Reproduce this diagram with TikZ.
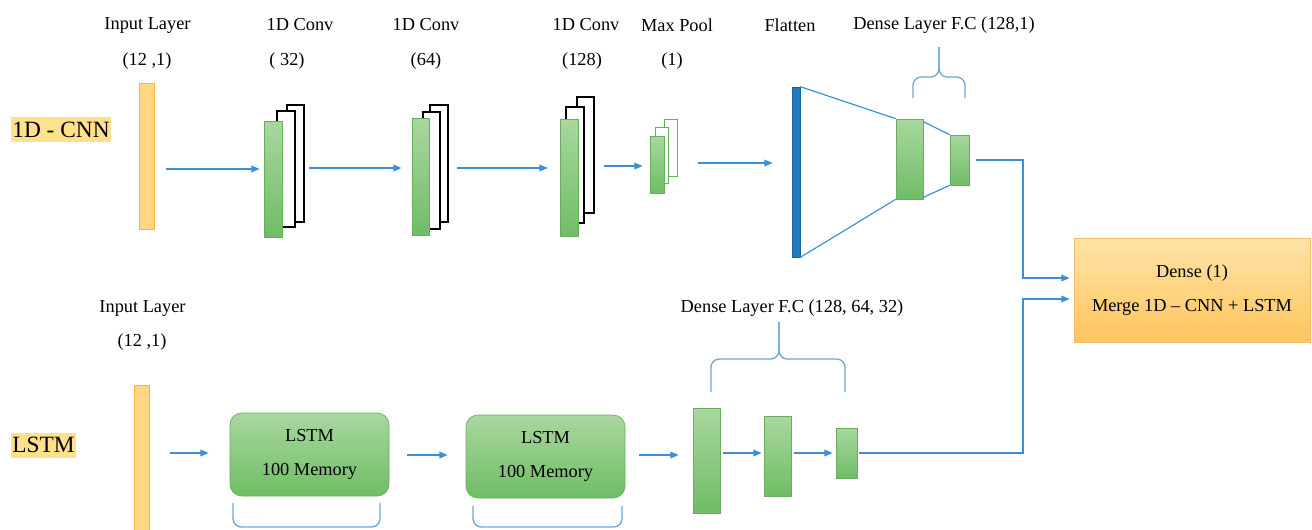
\documentclass[tikz,border=0pt]{standalone}
\usepackage{fontspec}
\setmainfont{Liberation Serif}
\usetikzlibrary{arrows.meta,positioning}

\definecolor{gtop}{HTML}{A9D7A0}
\definecolor{gbot}{HTML}{6FBD65}
\definecolor{gline}{HTML}{69AE5C}
\definecolor{infill}{HTML}{FFD683}
\definecolor{inline}{HTML}{F5B83A}
\definecolor{mtop}{HTML}{FFE3A6}
\definecolor{mbot}{HTML}{FFC55E}
\definecolor{mline}{HTML}{F0BE6A}
\definecolor{tagbg}{HTML}{FFE08C}
\definecolor{arrblue}{HTML}{3C8FD6}
\definecolor{brcblue}{HTML}{6FA6D8}
\definecolor{flatblue}{HTML}{1F7BC0}

\begin{document}
\begin{tikzpicture}
  [
  x=0.6pt, y=-0.6pt,
  lbl/.style={font=\fontsize{11}{13}\selectfont, inner sep=0pt},
  tag/.style={font=\fontsize{14}{16}\selectfont, fill=tagbg, inner xsep=0.6pt, inner ysep=0pt, minimum height=15pt},
  bar/.style 2 args={inner sep=0pt, minimum width=#1*0.6pt, minimum height=#2*0.6pt},
  gbar/.style 2 args={bar={#1}{#2}, draw=gline, top color=gtop, bottom color=gbot},
  wbar/.style 2 args={bar={#1}{#2}, draw=black, fill=white, line width=0.7pt},
  pbar/.style 2 args={bar={#1}{#2}, draw=gline, fill=white},
  inbar/.style 2 args={bar={#1}{#2}, draw=inline, fill=infill},
  lstmbox/.style={bar={159}{83}, draw=gline, top color=gtop, bottom color=gbot, rounded corners=7pt, align=center, font=\fontsize{11}{13}\selectfont},
  mergebox/.style={bar={236}{104}, draw=mline, top color=mtop, bottom color=mbot, align=center, font=\fontsize{11}{13}\selectfont},
  arr/.style={draw=arrblue, line width=0.8pt, -{Triangle[length=5pt,width=4pt]}},
  fan/.style={draw=arrblue, line width=0.7pt},
  brc/.style={draw=brcblue, line width=0.8pt, rounded corners=5pt}
  ]
  \useasboundingbox (0,0) rectangle (1312,529);
  \clip (0,0) rectangle (1312,529);

  % 1D-CNN branch
  \node[tag] (cnn) at (61,129.5) {1D - CNN};
  \node[lbl] (t1) at (147.5,25) {Input Layer};
  \node[lbl] (s1) at (147,61) {(12 ,1)};
  \node[lbl] (t2) at (300,25) {1D Conv};
  \node[lbl] (s2) at (287,61) {( 32)};
  \node[lbl] (t3) at (426,25) {1D Conv};
  \node[lbl] (s3) at (426,61) {(64)};
  \node[lbl] (t4) at (586,25) {1D Conv};
  \node[lbl] (s4) at (582,61) {(128)};
  \node[lbl] (t5) at (677,25) {Max Pool};
  \node[lbl] (s5) at (672,61) {(1)};
  \node[lbl] (t6) at (790,25) {Flatten};
  \node[lbl] (t7) at (944,25) {Dense Layer F.C (128,1)};

  \node[inbar={15}{146}] (in1) at (146.5,156) {};
  \node[wbar={17}{117}] (c1c) at (295.5,163.5) {};
  \node[wbar={18}{116}] (c1b) at (286,169) {};
  \node[gbar={18}{116}] (c1a) at (273,179) {};
  \node[wbar={18}{117}] (c2c) at (439,163.5) {};
  \node[wbar={17}{117}] (c2b) at (431.5,170.5) {};
  \node[gbar={17}{117}] (c2a) at (420.5,176.5) {};
  \node[wbar={17}{116}] (c3c) at (585.5,155) {};
  \node[wbar={18}{116}] (c3b) at (575,165) {};
  \node[gbar={18}{117}] (c3a) at (569,177.5) {};
  \node[pbar={13}{57}] (mpc) at (670.5,147.5) {};
  \node[pbar={13}{56}] (mpb) at (661.5,155) {};
  \node[gbar={14}{57}] (mpa) at (657,164.5) {};
  \node[bar={8}{170}, fill=flatblue, draw=flatblue!80!black] (fl) at (796,172) {};
  \node[gbar={27}{80}] (d1) at (909.5,159) {};
  \node[gbar={19}{50}] (d2) at (959.5,160) {};

  \coordinate (r1) at (0,169);
  \coordinate (r2) at (0,168);
  \coordinate (r3) at (0,166);
  \coordinate (r4) at (0,163);
  \draw[arr, shorten <=7.2pt, shorten >=2.4pt] (in1.east |- r1) -- (c1a.west |- r1);
  \draw[arr, shorten <=2.4pt, shorten >=6pt] (c1c.east |- r2) -- (c2a.west |- r2);
  \draw[arr, shorten <=4.8pt, shorten >=7.2pt] (c2c.east |- r2) -- (c3a.west |- r2);
  \draw[arr, shorten <=5.4pt, shorten >=4.2pt] (c3c.east |- r3) -- (mpa.west |- r3);
  \draw[arr, shorten <=12.6pt, shorten >=11.4pt] (mpc.east |- r4) -- (fl.west |- r4);

  \draw[fan] (fl.north east) -- (d1.north west);
  \draw[fan] (fl.south east) -- (d1.south west);
  \draw[fan] ([yshift=-1.8pt]d1.north east) -- (d2.north west);
  \draw[fan] ([yshift=1.2pt]d1.south east) -- (d2.south west);

  \draw[brc] (913,98) |- (939,77) -- (939,47);
  \draw[brc] (965,98) |- (939,77) -- (939,47);

  % merge
  \node[mergebox] (mg) at (1192,290) {Dense (1)\\[7pt]Merge 1D -- CNN + LSTM};
  \coordinate (jx) at (1023,0);
  \coordinate (m1) at (0,278);
  \coordinate (m2) at (0,299);
  \draw[arr, shorten >=2.4pt] ([xshift=4pt]d2.east) -| (jx |- m1) -- (mg.west |- m1);

  % LSTM branch
  \node[tag] (lstm) at (43.5,445) {LSTM};
  \node[lbl] (t8) at (142.5,308) {Input Layer};
  \node[lbl] (s8) at (142,342) {(12 ,1)};
  \node[lbl] (t9) at (792,308) {Dense Layer F.C (128, 64, 32)};

  \node[inbar={15}{170}] (in2) at (141.5,470) {};
  \node[lstmbox] (l1) at (309.5,454.5) {LSTM\\[7pt]100 Memory};
  \node[lstmbox] (l2) at (545.5,456.5) {LSTM\\[7pt]100 Memory};
  \node[gbar={27}{105}] (da) at (706.5,460.5) {};
  \node[gbar={27}{80}] (db) at (777.5,456) {};
  \node[gbar={21}{50}] (dc) at (846.5,453) {};

  \coordinate (r5) at (0,453);
  \coordinate (r6) at (0,455);
  \draw[arr, shorten <=12.6pt, shorten >=12.6pt] (in2.east |- r5) -- (l1.west |- r5);
  \draw[arr, shorten <=10.8pt, shorten >=10.8pt] (l1.east |- r6) -- (l2.west |- r6);
  \draw[arr, shorten <=8.4pt, shorten >=8.4pt] (l2.east |- r6) -- (da.west |- r6);
  \draw[arr, shorten <=1.8pt, shorten >=1.2pt] (da.east |- r5) -- (db.west |- r5);
  \draw[arr, shorten <=1.8pt, shorten >=1.8pt] (db.east |- r5) -- (dc.west |- r5);
  \draw[arr, shorten >=2.4pt] ([xshift=1.2pt]dc.east) -| (jx |- m2) -- (mg.west |- m2);

  \draw[brc] (711,392) |- (779,359) -- (779,322);
  \draw[brc] (845,392) |- (779,359) -- (779,322);
  % braces under the LSTM boxes, cut by the lower edge
  \draw[brc] (233,503) |- (380,527) -- (380,503);
  \draw[brc] (473,506) |- (622,527) -- (622,506);
\end{tikzpicture}
\end{document}
